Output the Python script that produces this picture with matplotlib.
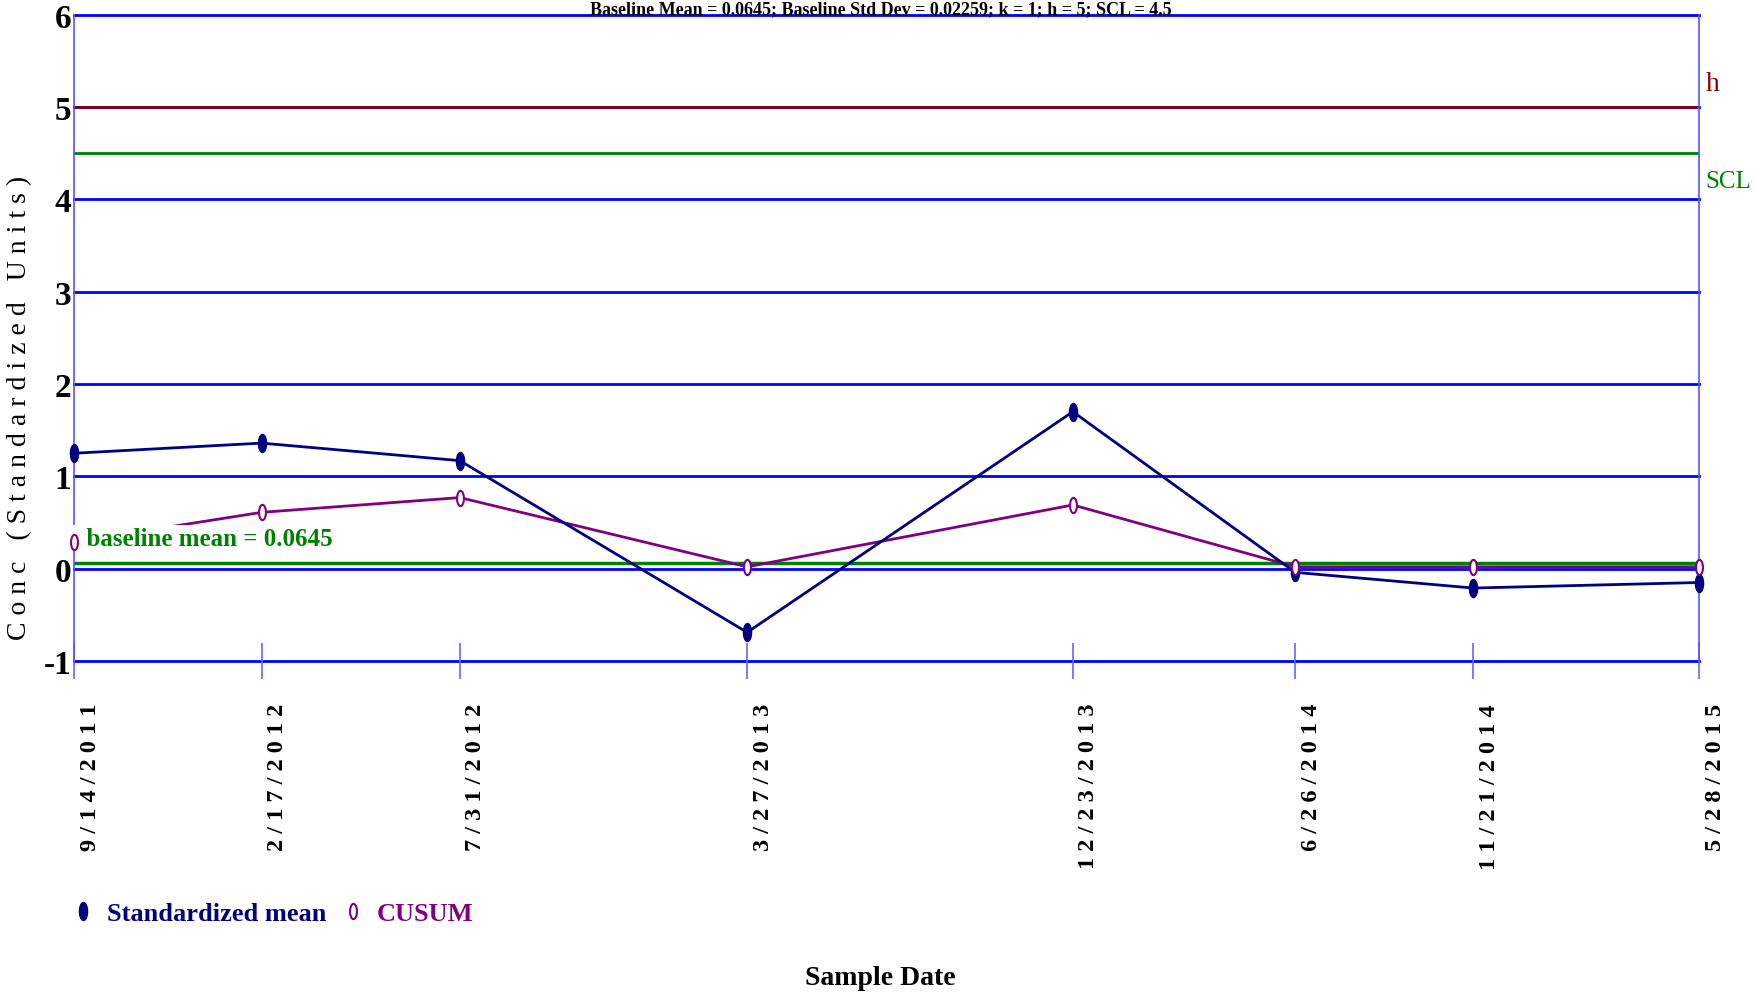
import matplotlib
matplotlib.use("Agg")
import matplotlib.pyplot as plt
import matplotlib.dates as mdates
import matplotlib.transforms as mtransforms
from matplotlib.path import Path
from matplotlib.lines import Line2D
import numpy as np
import pandas as pd

# Data
dates = ["2011-09-14", "2012-02-17", "2012-07-31", "2013-03-27",
         "2013-12-23", "2014-06-26", "2014-11-21", "2015-05-28"]
date_labels = ["9/14/2011", "2/17/2012", "7/31/2012", "3/27/2013",
               "12/23/2013", "6/26/2014", "11/21/2014", "5/28/2015"]
std_mean = [1.25, 1.36, 1.17, -0.69, 1.70, -0.04, -0.21, -0.15]
cusum = [0.29, 0.61, 0.77, 0.02, 0.69, 0.02, 0.02, 0.02]
baseline_mean = 0.0645
h_value = 5
scl_value = 4.5
y_ticks = [-1, 0, 1, 2, 3, 4, 5, 6]

x = pd.to_datetime(dates)

plt.rcParams['font.family'] = ['Liberation Serif', 'DejaVu Serif']

fig = plt.figure(figsize=(17.54, 10.03), dpi=100)
ax = fig.add_axes([0.0422, 0.340, 0.9265, 0.6443])

# tall narrow ellipse marker
t = np.linspace(0, 2 * np.pi, 40)
ellipse = Path(np.column_stack([0.45 * np.cos(t), np.sin(t)]))

navy = '#000080'
purple = '#800080'
green = '#008000'
darkred = '#8b0000'

# horizontal grid lines
for yv in y_ticks:
    ax.axhline(yv, color='#0000ff', lw=2, zorder=1, clip_on=False)

ax.axhline(h_value, color=darkred, lw=2, zorder=2)
ax.axhline(scl_value, color=green, lw=2, zorder=2)
ax.axhline(baseline_mean, color=green, lw=2.5, zorder=2)

ax.plot(x, std_mean, color=navy, lw=2, marker=ellipse, ms=13,
        mfc=navy, mec=navy, zorder=4, clip_on=False)
ax.plot(x, cusum, color=purple, lw=2, zorder=3, clip_on=False)
ax.plot(x, cusum, ls='none', marker=ellipse, ms=11, mfc='white', mec=purple,
        mew=1.5, zorder=7, clip_on=False)

ax.set_xlim(x[0], x[-1])
ax.set_ylim(-1, 6)
ax.set_yticks(y_ticks)
ax.set_yticklabels([str(v) for v in y_ticks], fontsize=24, fontweight='bold')
ax.tick_params(axis='y', length=0, pad=2)

ax.set_xticks(x)
ax.set_xticklabels([])
ax.tick_params(axis='x', direction='inout', length=26, width=1.2, color='#6666ff')

for side in ['top', 'bottom']:
    ax.spines[side].set_visible(False)
for side in ['left', 'right']:
    ax.spines[side].set_color('#5555ff')
    ax.spines[side].set_linewidth(1.2)

# rotated, letter-spaced date labels
offset = mtransforms.ScaledTranslation(0.16, -0.42, fig.dpi_scale_trans)
trans = mtransforms.blended_transform_factory(ax.transData, ax.transAxes) + offset
for xd, lab in zip(x, date_labels):
    ax.text(mdates.date2num(xd), 0, " ".join(lab), transform=trans,
            rotation=90, ha='center', va='top', fontsize=17.5, fontweight='bold')

# annotations
ax.text(x[0], 0.33, "  baseline mean = 0.0645", color=green, fontsize=18,
        fontweight='bold', va='center', ha='left', zorder=6,
        bbox=dict(facecolor='white', edgecolor='none', pad=1))
rt = mtransforms.blended_transform_factory(ax.transAxes, ax.transData)
ax.text(1.004, 5.25, "h", color=darkred, fontsize=20, transform=rt, va='center')
ax.text(1.004, 4.2, "SCL", color=green, fontsize=18, transform=rt, va='center')

ax.set_ylabel(" ".join("Conc (Standardized Units)"), fontsize=20)
ax.yaxis.set_label_coords(-0.026, 0.393)

fig.text(0.502, 0.999,
         "Baseline Mean = 0.0645; Baseline Std Dev = 0.02259; k = 1; h = 5; SCL = 4.5",
         ha='center', va='top', fontsize=13, fontweight='bold')

# legend
handles = [Line2D([], [], ls='none', marker=ellipse, ms=13, mfc=navy, mec=navy),
           Line2D([], [], ls='none', marker=ellipse, ms=11, mfc='white', mec=purple, mew=1.5)]
leg = fig.legend(handles, ['Standardized mean', 'CUSUM'], loc='center left',
                 bbox_to_anchor=(0.028, 0.088), ncol=2, frameon=False,
                 prop={'size': 19, 'weight': 'bold'}, handlelength=0.8,
                 columnspacing=0.6, handletextpad=0.5)
for txt, col in zip(leg.get_texts(), [navy, purple]):
    txt.set_color(col)

fig.text(0.502, 0.024, "Sample Date", ha='center', va='center', fontsize=20,
         fontweight='bold')

fig.savefig("out.png", dpi=100)
